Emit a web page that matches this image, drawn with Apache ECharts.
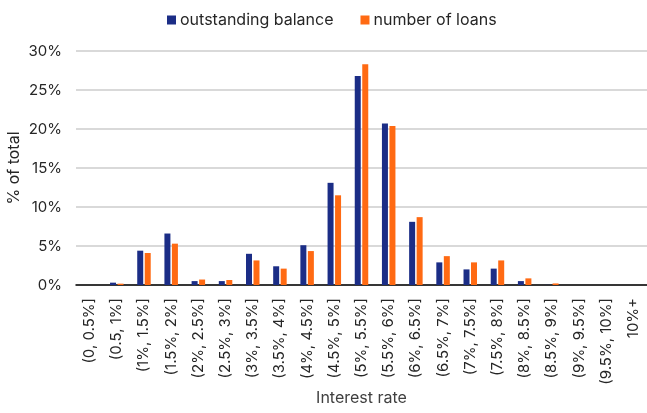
<!DOCTYPE html>
<html>
<head>
<meta charset="utf-8">
<script src="https://cdn.jsdelivr.net/npm/echarts@6/dist/echarts.min.js"></script>
<style>
  html, body { margin: 0; padding: 0; background: #fff; }
  #chart { width: 647px; height: 413px; }
</style>
</head>
<body>
<div id="chart"></div>
<script>
var categories = ['(0, 0.5%]', '(0.5, 1%]', '(1%, 1.5%]', '(1.5%, 2%]', '(2%, 2.5%]', '(2.5%, 3%]',
  '(3%, 3.5%]', '(3.5%, 4%]', '(4%, 4.5%]', '(4.5%, 5%]', '(5%, 5.5%]', '(5.5%, 6%]',
  '(6%, 6.5%]', '(6.5%, 7%]', '(7%, 7.5%]', '(7.5%, 8%]', '(8%, 8.5%]', '(8.5%, 9%]',
  '(9%, 9.5%]', '(9.5%, 10%]', '10%+']
var balance = [0, 0.3, 4.4, 6.6, 0.5, 0.5, 4.0, 2.4, 5.1, 13.1, 26.8, 20.7, 8.1, 2.9, 2.0, 2.1, 0.5, 0.02, 0, 0, 0]
var loans = [0, 0.17, 4.1, 5.3, 0.7, 0.64, 3.15, 2.1, 4.35, 11.5, 28.3, 20.4, 8.7, 3.7, 2.9, 3.15, 0.85, 0.2, 0, 0, 0]
var yTicks = [0, 5, 10, 15, 20, 25, 30]

var myChart = echarts.init(document.getElementById('chart'))
var font = 'Inter, "Noto Sans", sans-serif'

var option = {
  backgroundColor: '#fff',
  animation: false,
  textStyle: { fontFamily: font },
  legend: {
    top: 7,
    left: 162,
    itemWidth: 9,
    itemHeight: 9,
    itemGap: 27,
    icon: 'rect',
    textStyle: { color: '#262626', fontSize: 16, fontFamily: font, padding: [0, 0, 0, -1] },
    data: ['outstanding balance', 'number of loans']
  },
  grid: { left: 76, right: 0, top: 51, bottom: 128, containLabel: false, outerBoundsMode: 'none' },
  xAxis: {
    type: 'category',
    data: categories,
    name: 'Interest rate',
    nameLocation: 'middle',
    nameGap: 105,
    nameMoveOverlap: false,
    nameTextStyle: { color: '#404040', fontSize: 16, fontFamily: font },
    axisLine: { lineStyle: { color: '#000', width: 1.5 } },
    axisTick: { show: false },
    axisLabel: { rotate: 90, color: '#262626', fontSize: 15, fontFamily: font, margin: 13, interval: 0 }
  },
  yAxis: {
    type: 'value',
    min: yTicks[0],
    max: yTicks[yTicks.length - 1],
    interval: 5,
    name: '% of total',
    nameLocation: 'middle',
    nameGap: 54,
    nameMoveOverlap: false,
    nameTextStyle: { color: '#262626', fontSize: 16, fontFamily: font },
    axisLine: { show: false },
    axisTick: { show: false },
    axisLabel: { color: '#262626', fontSize: 15, fontFamily: font, margin: 14, formatter: '{value}%' },
    splitLine: { lineStyle: { color: '#d9d9d9', width: 2 } }
  },
  series: [
    {
      name: 'outstanding balance',
      type: 'bar',
      data: balance,
      barWidth: 6,
      barGap: '25%',
      itemStyle: { color: '#1b2d86' }
    },
    {
      name: 'number of loans',
      type: 'bar',
      data: loans,
      barWidth: 6,
      itemStyle: { color: '#ff6a13' }
    }
  ]
}

myChart.setOption(option)
</script>
</body>
</html>
